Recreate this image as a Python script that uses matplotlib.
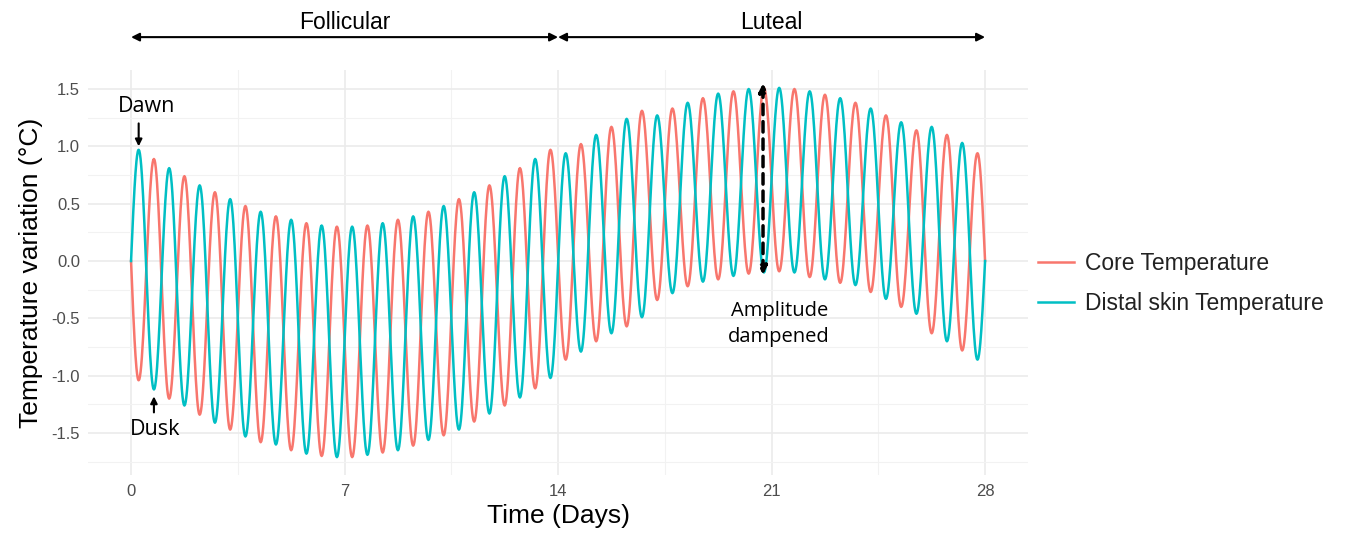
import numpy as np
import matplotlib
matplotlib.use('Agg')
import matplotlib.pyplot as plt
from matplotlib.transforms import blended_transform_factory

plt.rcParams['font.family'] = ['Liberation Sans', 'DejaVu Sans']

# daily extremes (day n = 0..27)
days = np.arange(28)
# distal skin: peak at n+0.25 (dawn), trough at n+0.75 (dusk)
skin_peak = [0.97, 0.81, 0.66, 0.54, 0.43, 0.36, 0.31, 0.30, 0.33, 0.39,
             0.48, 0.60, 0.74, 0.89, 0.94, 1.10, 1.24, 1.27, 1.38, 1.46,
             1.50, 1.51, 1.48, 1.42, 1.33, 1.21, 1.17, 1.03]
skin_trough = [-1.12, -1.26, -1.41, -1.53, -1.60, -1.68, -1.71, -1.69, -1.65, -1.56,
               -1.47, -1.33, -1.19, -1.02, -0.79, -0.63, -0.49, -0.28, -0.18, -0.13,
               -0.10, -0.10, -0.16, -0.21, -0.33, -0.46, -0.70, -0.86]
# core: trough at n+0.25, peak at n+0.75
core_trough = [-1.04, -1.20, -1.34, -1.47, -1.58, -1.65, -1.70, -1.71, -1.67, -1.61,
               -1.52, -1.40, -1.26, -1.11, -0.86, -0.70, -0.57, -0.34, -0.22, -0.16,
               -0.11, -0.09, -0.14, -0.19, -0.27, -0.40, -0.63, -0.78]
core_peak = [0.89, 0.74, 0.60, 0.48, 0.39, 0.33, 0.30, 0.31, 0.36, 0.43,
             0.54, 0.66, 0.81, 0.97, 1.02, 1.17, 1.31, 1.33, 1.42, 1.48,
             1.51, 1.50, 1.45, 1.38, 1.27, 1.14, 1.10, 0.94]

xticks = [0, 7, 14, 21, 28]
yticks = [-1.5, -1.0, -0.5, 0.0, 0.5, 1.0, 1.5]
phases = ['Follicular', 'Luteal']
phase_bounds = [(0, 14), (14, 28)]

col_core = '#F8766D'
col_skin = '#00BFC4'


def trace(first, second):
    # join the extremes with sinusoidal arcs, starting and ending at 0
    tk = [0.0]
    yk = [0.0]
    for n in days:
        tk += [n + 0.25, n + 0.75]
        yk += [first[n], second[n]]
    tk.append(28.0)
    yk.append(0.0)
    s = np.linspace(0, 1, 25)
    ts, ys = [], []
    for i in range(len(tk) - 1):
        if i == 0:
            w = np.sin(s * np.pi / 2)
        elif i == len(tk) - 2:
            w = 1 - np.cos(s * np.pi / 2)
        else:
            w = (1 - np.cos(np.pi * s)) / 2
        ts.append(tk[i] + (tk[i + 1] - tk[i]) * s)
        ys.append(yk[i] + (yk[i + 1] - yk[i]) * w)
    return np.concatenate(ts), np.concatenate(ys)


fig = plt.figure(figsize=(13.55, 5.38), dpi=100)
ax = fig.add_axes([0.0652, 0.1162, 0.6933, 0.7546])

t_core, y_core = trace(core_trough, core_peak)
t_skin, y_skin = trace(skin_peak, skin_trough)
ax.plot(t_core, y_core, color=col_core, lw=1.8, label='Core Temperature')
ax.plot(t_skin, y_skin, color=col_skin, lw=1.8, label='Distal skin Temperature')

ax.set_xlim(-1.4, 29.4)
ax.set_ylim(-1.87, 1.67)
ax.set_xticks(xticks)
ax.set_yticks(yticks)
ax.set_yticklabels(['%.1f' % v for v in yticks])
ax.set_xticks([3.5, 10.5, 17.5, 24.5], minor=True)
ax.set_yticks(np.arange(-1.75, 1.5, 0.5), minor=True)
ax.grid(which='major', color='#EBEBEB', lw=1.2)
ax.grid(which='minor', color='#F2F2F2', lw=0.8)
ax.set_axisbelow(True)
for sp in ax.spines.values():
    sp.set_visible(False)
ax.tick_params(which='both', length=0, labelsize=12, labelcolor='#4D4D4D', pad=6)
ax.set_xlabel('Time (Days)', fontsize=19, labelpad=4)
ax.set_ylabel('Temperature variation (°C)', fontsize=19, labelpad=6)

leg = ax.legend(loc='center left', bbox_to_anchor=(1.011, 0.473), frameon=False,
                fontsize=16.5, handlelength=1.55, handletextpad=0.5, labelspacing=0.75,
                borderaxespad=0, borderpad=0)
for txt in leg.get_texts():
    txt.set_color('#222222')

# phase arrows above the panel
fig_x = blended_transform_factory(ax.transData, fig.transFigure)
for name, (a, b) in zip(phases, phase_bounds):
    ax.annotate('', xy=(a, 0.931), xytext=(b, 0.931),
                xycoords=fig_x, textcoords=fig_x,
                arrowprops=dict(arrowstyle='<|-|>', color='black', lw=1.5,
                                mutation_scale=12, shrinkA=0, shrinkB=0))
    ax.text((a + b) / 2, 0.958, name, transform=fig_x,
            ha='center', va='center', fontsize=16.5)

# dawn / dusk markers
ann_font = ['Open Sans', 'DejaVu Sans']
ax.text(0.5, 1.35, 'Dawn', ha='center', va='center', fontsize=15.5, family=ann_font)
ax.annotate('', xy=(0.25, 1.0), xytext=(0.25, 1.2),
            arrowprops=dict(arrowstyle='-|>', color='black', lw=1.5, mutation_scale=10,
                            shrinkA=0, shrinkB=0))
ax.text(0.8, -1.47, 'Dusk', ha='center', va='center', fontsize=15.5, family=ann_font)
ax.annotate('', xy=(0.75, -1.18), xytext=(0.75, -1.32),
            arrowprops=dict(arrowstyle='-|>', color='black', lw=1.5, mutation_scale=10,
                            shrinkA=0, shrinkB=0))

# amplitude arrow
ax.annotate('', xy=(20.72, 1.55), xytext=(20.72, -0.12),
            arrowprops=dict(arrowstyle='<|-|>', color='black', lw=2.5, ls=(0, (3, 2)),
                            mutation_scale=12, shrinkA=0, shrinkB=0))
ax.text(21.25, -0.55, 'Amplitude\ndampened', ha='center', va='center', fontsize=14.5,
        family=ann_font, linespacing=1.4)

fig.savefig('out.png', dpi=100)
